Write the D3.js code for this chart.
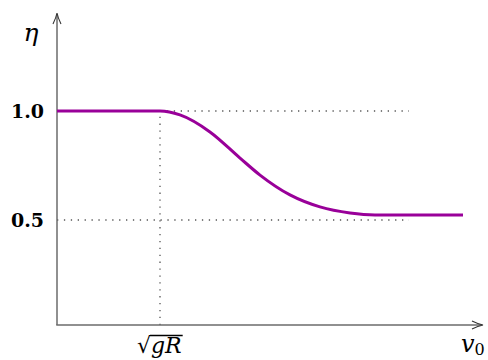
<!DOCTYPE html>
<html>
<head>
<meta charset="utf-8">
<script src="https://cdn.jsdelivr.net/npm/d3@7"></script>
<style>
  body { margin: 0; background: #fff; }
  svg { display: block; }
  text { font-family: "DejaVu Serif", "Liberation Serif", serif; }
</style>
</head>
<body>
<div id="chart"></div>
<script>
// efficiency eta vs launch speed v0 (x in units of sqrt(gR))
var curveX = [0, 1.0, 1.194, 1.485, 1.777, 1.971, 2.262, 2.553, 2.845, 3.087, 3.942]
var curveY = [1.0, 1.0, 0.982, 0.904, 0.784, 0.706, 0.615, 0.560, 0.532, 0.523, 0.523]
var yTicks = [1.0, 0.5]
var xMark = 1.0

var width = 488, height = 360
var axisY = 325

var svg = d3.select("#chart").append("svg")
    .attr("width", width)
    .attr("height", height)

// scales
var x = d3.scaleLinear().domain([0, 1]).range([57, 160])
var y = d3.scaleLinear().domain([0, 1]).range([329, 111])

var axisColor = "#6b6b6b"

// dotted guide lines
function dotted(x1, y1, x2, y2) {
    svg.append("line")
        .attr("x1", x1).attr("x2", x2)
        .attr("y1", y1).attr("y2", y2)
        .attr("stroke", "#555").attr("stroke-width", 1.3)
        .attr("stroke-dasharray", "1.3,5.6")
}
dotted(x(xMark), axisY, x(xMark), y(1))
dotted(x(xMark), y(1), 409, y(1))
dotted(x(0), y(0.5), 409, y(0.5))

// axes
svg.append("line")
    .attr("x1", x(0)).attr("x2", x(0))
    .attr("y1", axisY).attr("y2", 14)
    .attr("stroke", axisColor).attr("stroke-width", 1.5)
svg.append("line")
    .attr("x1", x(0) - 0.75).attr("x2", 482)
    .attr("y1", axisY).attr("y2", axisY)
    .attr("stroke", axisColor).attr("stroke-width", 1.5)

// arrow heads (latex style)
svg.append("path")
    .attr("d", "M" + (x(0) - 4) + ",24 Q" + (x(0) - 1) + ",18 " + x(0) + ",13 Q" + (x(0) + 1) + ",18 " + (x(0) + 4) + ",24")
    .attr("fill", "none").attr("stroke", "#333").attr("stroke-width", 1.1)
svg.append("path")
    .attr("d", "M472," + (axisY - 4) + " Q478," + (axisY - 1) + " 483," + axisY + " Q478," + (axisY + 1) + " 472," + (axisY + 4))
    .attr("fill", "none").attr("stroke", "#333").attr("stroke-width", 1.1)

// curve
var data = curveX.map(function(d, i) { return [d, curveY[i]] })
var line = d3.line()
    .x(function(d) { return x(d[0]) })
    .y(function(d) { return y(d[1]) })
    .curve(d3.curveMonotoneX)
svg.append("path")
    .datum(data)
    .attr("d", line)
    .attr("fill", "none")
    .attr("stroke", "#990099")
    .attr("stroke-width", 3)

// tick labels
svg.selectAll(".ytick")
    .data(yTicks)
    .enter().append("text")
    .attr("class", "ytick")
    .attr("x", 44)
    .attr("y", function(d) { return y(d) + 7 })
    .attr("text-anchor", "end")
    .attr("font-weight", "bold")
    .attr("font-size", 19)
    .text(function(d) { return d.toFixed(1) })

// axis labels
svg.append("text")
    .attr("x", 31).attr("y", 41)
    .attr("text-anchor", "middle")
    .attr("font-style", "italic")
    .attr("font-size", 25)
    .text("η")

var v0 = svg.append("text")
    .attr("x", 461).attr("y", 352)
    .attr("font-size", 24)
v0.append("tspan").attr("font-style", "italic").text("v")
v0.append("tspan").attr("font-size", 16).attr("dy", 3).text("0")

// sqrt(gR) label under the marker
var sq = svg.append("text")
    .attr("x", 137).attr("y", 353)
    .attr("font-size", 22)
sq.append("tspan").text("√")
sq.append("tspan").attr("font-style", "italic").text("gR")
var sqBox = sq.node().getBBox()
var rootW = sq.node().getSubStringLength(0, 1)
svg.append("line")
    .attr("x1", sqBox.x + rootW - 1).attr("x2", sqBox.x + sqBox.width + 1)
    .attr("y1", 335.5).attr("y2", 335.5)
    .attr("stroke", "#000").attr("stroke-width", 1.4)
</script>
</body>
</html>
